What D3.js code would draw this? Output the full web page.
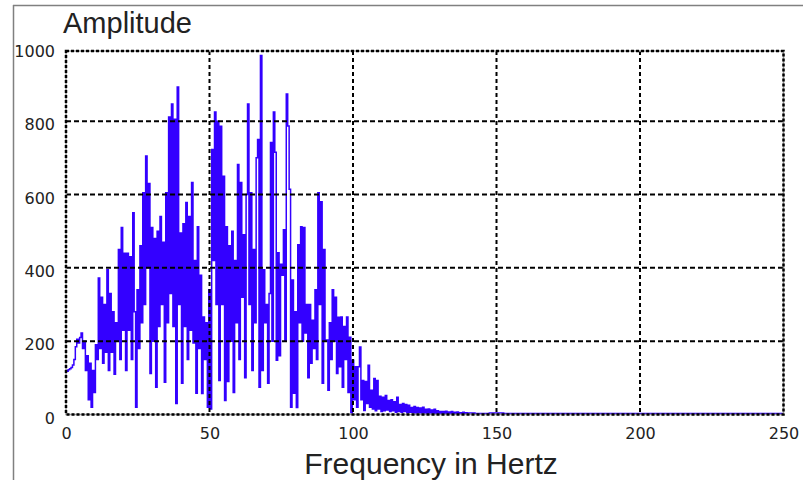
<!DOCTYPE html>
<html>
<head>
<meta charset="utf-8">
<script src="https://cdn.jsdelivr.net/npm/d3@7"></script>
<style>
  html, body { margin: 0; padding: 0; background: #fff; }
  svg { display: block; }
</style>
</head>
<body>
<svg id="chart" width="803" height="480"></svg>
<script>
// ---- data ----
const freqStep = 0.5;            // Hz between successive values in `amplitudes`
const amplitudes = [
  120,118,122,125,128,135,150,185,205,195,210,222,180,200,120,160,40,140,20,120,
  60,190,150,372,180,320,140,300,170,395,120,330,170,280,110,250,200,450,150,510,
  230,440,120,440,230,430,150,550,280,20,340,180,460,250,605,300,705,400,630,112,
  510,200,480,74,500,240,540,300,470,88,605,250,811,330,847,240,805,30,893,300,
  495,85,520,240,578,150,540,230,633,195,420,58,512,180,380,57,266,150,250,20,
  340,15,723,420,825,300,800,93,786,300,650,38,512,90,460,200,500,60,420,250,
  682,150,633,320,490,100,600,847,300,605,120,450,250,700,750,74,979,120,395,250,
  300,85,330,742,200,825,715,148,441,160,410,380,504,200,874,787,614,20,367,58,
  280,19,463,250,512,200,510,222,300,100,300,140,257,180,340,150,605,300,580,85,
  450,200,203,66,250,150,340,200,320,112,265,130,266,74,240,150,266,60,211,5,
  148,40,130,20,130,184,40,93,11,90,30,134,20,66,15,98,10,93,15,50,
  8,47,10,52,12,38,8,40,10,35,6,47,8,27,6,30,8,27,5,25,
  6,19,5,22,4,19,5,18,4,20,4,14,3,15,4,12,3,14,3,10,
  3,8,3,8,3,9,3,7,3,8,2,6,3,7,2,5,3,6,3,5
];
const tailFreqs = [140, 145, 150, 155, 160, 170, 180, 190, 200, 210, 220, 230, 240, 250];
const tailAmps  = [4, 3, 4, 3, 3, 3, 3, 3, 3, 3, 3, 3, 3, 3];

const xTicks = [0, 50, 100, 150, 200, 250];
const yTicks = [0, 200, 400, 600, 800, 1000];
const yTitle = "Amplitude";
const xTitle = "Frequency in Hertz";

// ---- layout ----
const svg = d3.select("#chart");
const plotLeft = 66, plotRight = 783.5, plotTop = 51, plotBottom = 414.5;

const x = d3.scaleLinear().domain([0, 250]).range([plotLeft, plotRight]);
const y = d3.scaleLinear().domain([0, 1000]).range([plotBottom, 47.8]);

// outer window border (top + left)
svg.append("line").attr("x1", 13).attr("x2", 803).attr("y1", 5.5).attr("y2", 5.5)
  .attr("stroke", "#808080").attr("stroke-width", 1.5);
svg.append("line").attr("x1", 13.5).attr("x2", 13.5).attr("y1", 5).attr("y2", 480)
  .attr("stroke", "#808080").attr("stroke-width", 1.5);

// plot background
svg.append("rect").attr("x", plotLeft).attr("y", plotTop)
  .attr("width", plotRight - plotLeft).attr("height", plotBottom - plotTop)
  .attr("fill", "#fff");

// series
const points = amplitudes.map((v, i) => [i * freqStep, v])
  .concat(tailFreqs.map((f, i) => [f, tailAmps[i]]));

svg.append("clipPath").attr("id", "clip").append("rect")
  .attr("x", plotLeft).attr("y", plotTop)
  .attr("width", plotRight - plotLeft).attr("height", plotBottom - plotTop);

svg.append("path")
  .datum(points)
  .attr("clip-path", "url(#clip)")
  .attr("fill", "none")
  .attr("stroke", "#3300ff")
  .attr("stroke-width", 1.5)
  .attr("d", d3.line().curve(d3.curveStep).x(d => x(d[0])).y(d => y(d[1])));

// grid (drawn over the series)
const grid = svg.append("g");
grid.selectAll("line.h").data(yTicks.filter(t => t > 0 && t < 1000)).join("line")
  .attr("x1", plotLeft).attr("x2", plotRight)
  .attr("y1", d => y(d)).attr("y2", d => y(d))
  .attr("stroke", "#000").attr("stroke-width", 2).attr("stroke-dasharray", "5,3");
grid.selectAll("line.v").data(xTicks.filter(t => t > 0 && t < 250)).join("line")
  .attr("x1", d => x(d)).attr("x2", d => x(d))
  .attr("y1", plotTop).attr("y2", plotBottom)
  .attr("stroke", "#000").attr("stroke-width", 2).attr("stroke-dasharray", "4,3");

// frame
svg.append("rect").attr("x", plotLeft).attr("y", plotTop)
  .attr("width", plotRight - plotLeft).attr("height", plotBottom - plotTop)
  .attr("fill", "none").attr("stroke", "#999").attr("stroke-width", 1.5);
svg.append("rect").attr("x", plotLeft).attr("y", plotTop)
  .attr("width", plotRight - plotLeft).attr("height", plotBottom - plotTop)
  .attr("fill", "none").attr("stroke", "#000").attr("stroke-width", 2.5)
  .attr("stroke-dasharray", "3,2");

// axes (labels only; ticks hidden)
const xAxis = d3.axisBottom(x).tickValues(xTicks).tickSize(0).tickPadding(0).tickFormat(d3.format("d"));
const gx = svg.append("g").attr("transform", `translate(0, ${plotBottom})`).call(xAxis);
gx.select(".domain").remove();
gx.selectAll("text").attr("dy", null).attr("y", 24.5)
  .attr("font-family", "DejaVu Sans").attr("font-size", 16).attr("fill", "#222");

const yAxis = d3.axisLeft(y).tickValues(yTicks).tickSize(0).tickPadding(0).tickFormat(d3.format("d"));
const gy = svg.append("g").attr("transform", `translate(55, 0)`).call(yAxis);
gy.select(".domain").remove();
gy.selectAll("text").attr("x", 0).attr("dy", "0.32em")
  .attr("transform", "translate(0,3.6)")
  .attr("font-family", "DejaVu Sans").attr("font-size", 16).attr("fill", "#222");

// titles
svg.append("text").attr("x", 63).attr("y", 33)
  .attr("font-family", "Liberation Sans, Arial, sans-serif").attr("font-size", 29)
  .attr("fill", "#222").text(yTitle);
svg.append("text").attr("x", 431).attr("y", 474).attr("text-anchor", "middle")
  .attr("font-family", "Liberation Sans, Arial, sans-serif").attr("font-size", 30)
  .attr("fill", "#222").text(xTitle);
</script>
</body>
</html>
